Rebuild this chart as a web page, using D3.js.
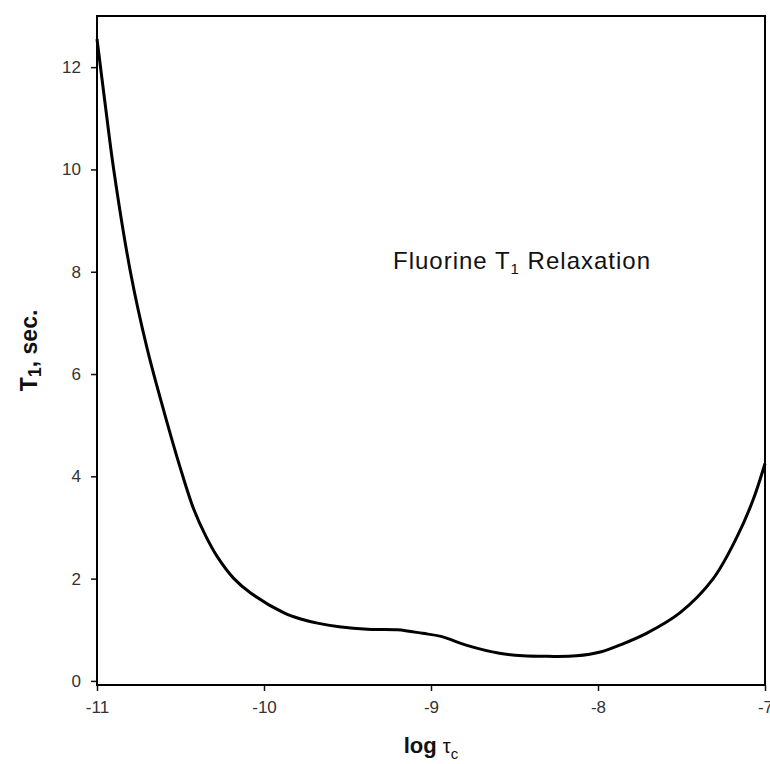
<!DOCTYPE html>
<html>
<head>
<meta charset="utf-8">
<script src="https://cdn.jsdelivr.net/npm/d3@7"></script>
<style>
  body { margin: 0; background: #fff; }
  svg { display: block; font-family: "Liberation Sans", Arial, sans-serif; }
</style>
</head>
<body>
<div id="chart"></div>
<script>
// values
var logTau = [-11.00, -10.95, -10.90, -10.80, -10.70, -10.60, -10.50, -10.42, -10.35, -10.28,
              -10.18, -10.08, -9.88, -9.78, -9.68, -9.55, -9.38, -9.20, -9.05, -8.94,
              -8.78, -8.59, -8.45, -8.30, -8.13, -7.98, -7.87, -7.71, -7.51, -7.31,
              -7.17, -7.07, -7.00];
var t1 = [12.55, 11.25, 10.0, 8.0, 6.50, 5.28, 4.15, 3.35, 2.84, 2.43,
          2.0, 1.72, 1.33, 1.21, 1.13, 1.06, 1.01, 1.00, 0.93, 0.87,
          0.69, 0.54, 0.49, 0.48, 0.49, 0.57, 0.70, 0.93, 1.33, 2.00,
          2.80, 3.55, 4.25];
var xTicks = [-11, -10, -9, -8, -7];
var yTicks = [0, 2, 4, 6, 8, 10, 12];

var width = 770, height = 764;
var margin = {top: 16, right: 5, bottom: 79, left: 97};

var svg = d3.select("#chart")
    .append("svg")
    .attr("width", width)
    .attr("height", height)

var x = d3.scaleLinear()
    .domain([-11, -7])
    .range([margin.left, width - margin.right]);
var y = d3.scaleLinear()
    .domain([-0.08, 13])
    .range([height - margin.bottom, margin.top]);

//axes (plain hyphen for the minus sign, like the original)
var fmt = d => String(d);
svg.append("g")
    .attr("transform", "translate(0," + (height - margin.bottom) + ")")
    .call(d3.axisBottom(x).tickValues(xTicks).tickSize(6).tickPadding(10).tickFormat(fmt))
svg.append("g")
    .attr("transform", "translate(" + margin.left + ",0)")
    .call(d3.axisLeft(y).tickValues(yTicks).tickSize(6).tickPadding(10).tickFormat(fmt))

svg.selectAll(".domain").remove();
svg.selectAll(".tick line").attr("stroke", "#111").attr("stroke-width", 1.5);
svg.selectAll(".tick text")
    .style("font-family", "'Liberation Sans', Arial, sans-serif")
    .style("font-size", "17px")
    .attr("fill", "#333");

//frame
svg.append("rect")
    .attr("x", x(-11))
    .attr("y", y(13))
    .attr("width", x(-7) - x(-11))
    .attr("height", y(-0.08) - y(13))
    .attr("fill", "none")
    .attr("stroke", "#000")
    .attr("stroke-width", 2)

//the curve
var pts = logTau.map((d, i) => [d, t1[i]]);
var line = d3.line()
    .x(d => x(d[0]))
    .y(d => y(d[1]))
    .curve(d3.curveCatmullRom.alpha(0.5));
svg.append("path")
    .datum(pts)
    .attr("d", line)
    .attr("fill", "none")
    .attr("stroke", "#000")
    .attr("stroke-width", 3)
    .attr("stroke-linejoin", "round")

//title inside plot
var title = svg.append("text")
    .attr("x", 393)
    .attr("y", 269)
    .style("font-size", "24px")
    .style("letter-spacing", "1px")
    .attr("fill", "#111");
title.append("tspan").text("Fluorine T");
title.append("tspan").attr("dy", 5).style("font-size", "15px").text("1");
title.append("tspan").attr("dy", -5).text(" Relaxation");

//x label
var cx = (x(-11) + x(-7)) / 2;
var xl = svg.append("text")
    .attr("x", cx)
    .attr("y", 753)
    .attr("text-anchor", "middle")
    .attr("fill", "#111");
xl.append("tspan").style("font-size", "22px").style("font-weight", "bold").text("log ");
xl.append("tspan").style("font-size", "20px").text("τ");
xl.append("tspan").attr("dy", 6).style("font-size", "15px").text("c");

//y label
var cy = (y(-0.08) + y(13)) / 2;
var yl = svg.append("text")
    .attr("transform", "translate(37," + cy + ") rotate(-90)")
    .attr("text-anchor", "middle")
    .style("font-size", "23px")
    .style("font-weight", "bold")
    .attr("fill", "#111");
yl.append("tspan").text("T");
yl.append("tspan").attr("dy", 4).style("font-size", "18px").text("1");
yl.append("tspan").attr("dy", -4).text(", sec.");
</script>
</body>
</html>
